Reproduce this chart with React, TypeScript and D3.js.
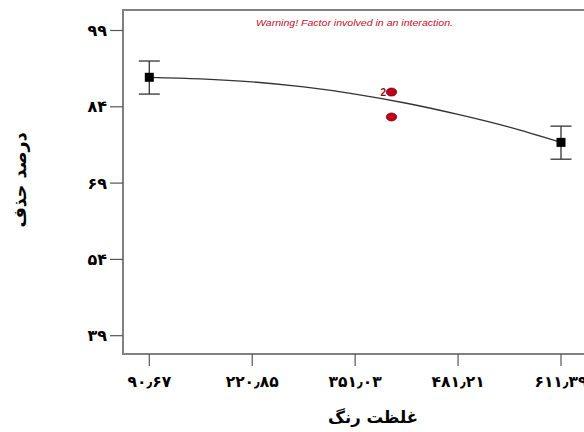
import React from "react";
import * as d3 from "d3";

const xTicks = [90.67, 220.85, 351.03, 481.21, 611.39];
const xTickLabels = ["۹۰٫۶۷", "۲۲۰٫۸۵", "۳۵۱٫۰۳", "۴۸۱٫۲۱", "۶۱۱٫۳۹"];
const yTicks = [39, 54, 69, 84, 99];
const yTickLabels = ["۳۹", "۵۴", "۶۹", "۸۴", "۹۹"];

// factor-level means with LSD bars
const meanX = [90.67, 611.39];
const meanY = [89.8, 77.0];
const barLow = [86.5, 73.7];
const barHigh = [93.0, 80.2];

// design points (red)
const pointX = [397, 397];
const pointY = [86.9, 82.0];
const pointLabel = ["2", ""];

// fitted curve
const curveX = [90.67, 155, 220.85, 286, 351.03, 416, 481.21, 546, 611.39];
const curveY = [89.8, 89.5, 88.9, 87.9, 86.5, 84.7, 82.5, 80.0, 77.0];

const warning = "Warning! Factor involved in an interaction.";
const xTitle = "غلظت رنگ";
const yTitle = "درصد حذف";

export default function App() {
  const left = 123, right = 587, top = 10, bottom = 354;
  const x = d3.scaleLinear().domain([90.67, 611.39]).range([149.3, 561]);
  const y = d3.scaleLinear().domain([39, 99]).range([335.7, 30.5]);
  const line = d3
    .line<number>()
    .x((_, i) => x(curveX[i]))
    .y((d) => y(d))
    .curve(d3.curveMonotoneX);
  const font = "'DejaVu Sans', sans-serif";
  return (
    <svg width={584} height={432} style={{ position: "absolute", left: 0, top: 0, background: "#fff" }}>
      <rect x={0} y={0} width={584} height={432} fill="#fff" />
      <rect x={left} y={top} width={right - left} height={bottom - top} fill="none" stroke="#808080" strokeWidth={2} />
      {yTicks.map((t, i) => (
        <g key={t}>
          <line x1={110} x2={left} y1={y(t)} y2={y(t)} stroke="#555" strokeWidth={1.2} />
          <text x={107} y={y(t)} dy="0.35em" textAnchor="end" fontFamily={font} fontWeight="bold" fontSize={16} fill="#000">
            {yTickLabels[i]}
          </text>
        </g>
      ))}
      {xTicks.map((t, i) => (
        <g key={t}>
          <line x1={x(t)} x2={x(t)} y1={bottom} y2={366} stroke="#555" strokeWidth={1.2} />
          <text x={x(t)} y={382} dy="0.35em" textAnchor="middle" fontFamily={font} fontWeight="bold" fontSize={15.5} fill="#000">
            {xTickLabels[i]}
          </text>
        </g>
      ))}
      <text x={256} y={26} fontFamily="'Liberation Sans', Arial, sans-serif" fontStyle="italic" fontSize={9.5} fill="#c0102a" textLength={197} lengthAdjust="spacingAndGlyphs">
        {warning}
      </text>
      <path d={line(curveY) || ""} fill="none" stroke="#333" strokeWidth={1.3} />
      {meanX.map((v, i) => (
        <g key={v}>
          <line x1={x(v)} x2={x(v)} y1={y(barLow[i])} y2={y(barHigh[i])} stroke="#333" strokeWidth={1.3} />
          <line x1={x(v) - 10.5} x2={x(v) + 10.5} y1={y(barLow[i])} y2={y(barLow[i])} stroke="#333" strokeWidth={1.3} />
          <line x1={x(v) - 10.5} x2={x(v) + 10.5} y1={y(barHigh[i])} y2={y(barHigh[i])} stroke="#333" strokeWidth={1.3} />
          <rect x={x(v) - 4.5} y={y(meanY[i]) - 4.5} width={9} height={9} fill="#000" />
        </g>
      ))}
      {pointX.map((v, i) => (
        <g key={i}>
          <ellipse cx={x(v)} cy={y(pointY[i])} rx={5.2} ry={4} fill="#c0001a" stroke="#7a0010" strokeWidth={0.8} />
          {pointLabel[i] && (
            <text x={x(v) - 5.5} y={y(pointY[i])} dy="0.35em" textAnchor="end" fontFamily="'Liberation Sans', Arial, sans-serif" fontWeight="bold" fontSize={10} fill="#8a1020">
              {pointLabel[i]}
            </text>
          )}
        </g>
      ))}
      <text x={373} y={417} dy="0.35em" textAnchor="middle" fontFamily={font} fontWeight="bold" fontSize={16.5} fill="#000">
        {xTitle}
      </text>
      <text transform="translate(20,180) rotate(-90)" dy="0.35em" textAnchor="middle" fontFamily={font} fontWeight="bold" fontSize={17.5} fill="#000">
        {yTitle}
      </text>
    </svg>
  );
}
